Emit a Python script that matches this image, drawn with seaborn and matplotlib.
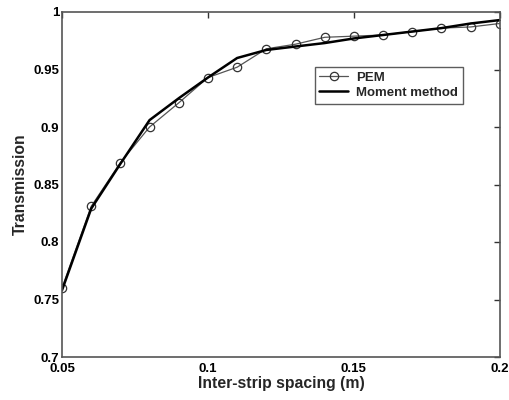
import matplotlib
matplotlib.use("Agg")
import matplotlib.pyplot as plt
import pandas as pd
import seaborn as sns

# 数据
spacing = [0.05, 0.06, 0.07, 0.08, 0.09, 0.10, 0.11, 0.12,
           0.13, 0.14, 0.15, 0.16, 0.17, 0.18, 0.19, 0.20]
pem = [0.760, 0.831, 0.869, 0.900, 0.921, 0.943, 0.952, 0.968,
       0.972, 0.978, 0.979, 0.980, 0.983, 0.986, 0.987, 0.990]
moment = [0.758, 0.829, 0.868, 0.906, 0.925, 0.943, 0.960, 0.967,
          0.970, 0.973, 0.977, 0.980, 0.983, 0.986, 0.990, 0.993]

df = pd.DataFrame({"spacing": spacing, "PEM": pem, "Moment method": moment})

sns.set_theme(style="white")
plt.rcParams["font.family"] = ["Liberation Sans", "DejaVu Sans"]
plt.rcParams["font.weight"] = "bold"

fig = plt.figure(figsize=(5.09, 4.0), dpi=100)
ax = fig.add_axes([0.1218, 0.1075, 0.8602, 0.8625])

sns.lineplot(data=df, x="spacing", y="PEM", ax=ax, color="#555555", linewidth=0.9,
             marker="o", markersize=6, markerfacecolor="none", markeredgecolor="#333333",
             markeredgewidth=0.9, label="PEM")
sns.lineplot(data=df, x="spacing", y="Moment method", ax=ax, color="black",
             linewidth=1.8, label="Moment method")

ax.set_xlim(0.05, 0.2)
ax.set_ylim(0.7, 1.0)
ax.set_xticks([0.05, 0.1, 0.15, 0.2])
ax.set_xticklabels(["0.05", "0.1", "0.15", "0.2"])
ax.set_yticks([0.7, 0.75, 0.8, 0.85, 0.9, 0.95, 1.0])
ax.set_yticklabels(["0.7", "0.75", "0.8", "0.85", "0.9", "0.95", "1"])
ax.tick_params(direction="in", length=4, width=1, colors="#333333", labelsize=9.5,
               top=True, right=True, labelcolor="black", pad=2)
ax.tick_params(axis="x", pad=4)
for lab in ax.get_xticklabels() + ax.get_yticklabels():
    lab.set_fontweight("bold")
for s in ax.spines.values():
    s.set_color("#555555")
    s.set_linewidth(1.2)

ax.set_xlabel("Inter-strip spacing (m)", fontsize=11.3, fontweight="bold", labelpad=1)
ax.set_ylabel("Transmission", fontsize=11.3, fontweight="bold", labelpad=4)

leg = ax.legend(loc="upper left", bbox_to_anchor=(0.577, 0.84), frameon=True, fancybox=False,
                fontsize=9.5, handlelength=2.2, borderpad=0.35, labelspacing=0.2,
                handletextpad=0.6, borderaxespad=0)
leg.get_frame().set_edgecolor("#333333")
leg.get_frame().set_linewidth(1.0)
for t in leg.get_texts():
    t.set_fontweight("bold")

plt.savefig("out.png", dpi=100)
plt.close()
